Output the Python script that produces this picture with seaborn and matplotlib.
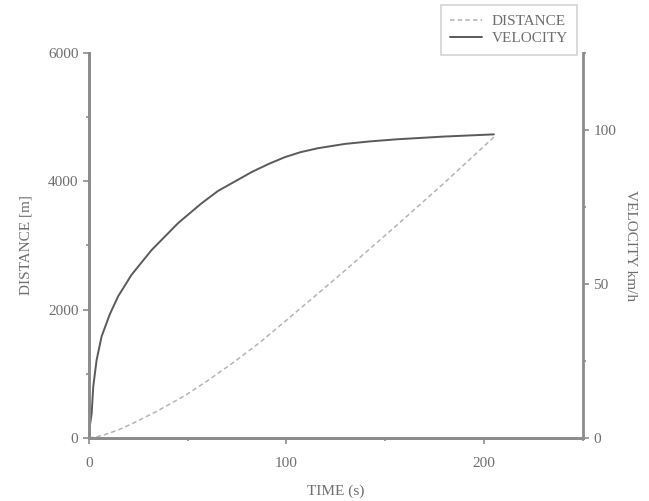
import numpy as np
import pandas as pd
import matplotlib
matplotlib.use("Agg")
import matplotlib.pyplot as plt
from matplotlib.ticker import MultipleLocator
import seaborn as sns

# values
dist_time = [0, 4, 8, 15, 23, 35, 48.6, 60, 74, 87, 99, 114, 130, 156, 180, 205]
dist_m = [0, 18, 50, 125, 238, 425, 660, 890, 1195, 1500, 1810, 2200,
          2620, 3320, 3980, 4690]

vel_time = [0, 0.5, 1.4, 2.2, 3.9, 6.4, 10.6, 14.8, 21.6, 31.7, 45.2, 57,
            65.3, 82.5, 91, 99.2, 107, 115.9, 129.6, 142, 155.9, 180, 205]
vel_kmh = [0, 4, 8, 16.7, 25.3, 32.9, 40.2, 46, 53, 61, 69.8, 76.2,
           80.2, 86.4, 89.0, 91.2, 92.8, 94.1, 95.5, 96.3, 97.0, 97.9, 98.6]

df_dist = pd.DataFrame({"time": dist_time, "distance": dist_m})
df_vel = pd.DataFrame({"time": vel_time, "velocity": vel_kmh})

sns.set_theme(style="ticks")
plt.rcParams["font.family"] = ["Liberation Serif", "DejaVu Serif"]

text_col = "#6e6e6e"
spine_col = "#8c8c8c"
fs = 11

fig = plt.figure(figsize=(6.49, 5.01), dpi=100)
ax = fig.add_axes([0.137, 0.126, 0.761, 0.768])
ax2 = ax.twinx()

sns.lineplot(data=df_dist, x="time", y="distance", ax=ax, color="#b4b4b4",
             linewidth=1.1, linestyle=(0, (3, 2)), label="DISTANCE", legend=False)
sns.lineplot(data=df_vel, x="time", y="velocity", ax=ax2, color="#5a5a5a",
             linewidth=1.4, label="VELOCITY", legend=False)

ax.set_xlim(0, 250)
ax.set_ylim(0, 6000)
ax2.set_ylim(0, 125)

ax.xaxis.set_major_locator(MultipleLocator(100))
ax.xaxis.set_minor_locator(MultipleLocator(50))
ax.yaxis.set_major_locator(MultipleLocator(2000))
ax.yaxis.set_minor_locator(MultipleLocator(1000))
ax2.yaxis.set_major_locator(MultipleLocator(50))
ax2.yaxis.set_minor_locator(MultipleLocator(25))

ax.set_xlabel("TIME (s)", fontsize=fs, color=text_col, labelpad=10)
ax.set_ylabel("DISTANCE [m]", fontsize=fs, color=text_col, labelpad=11)
ax2.set_ylabel("VELOCITY km/h", fontsize=fs, color=text_col, rotation=270,
               labelpad=15)

for a in (ax, ax2):
    a.tick_params(which="both", direction="out", colors=spine_col,
                  labelcolor=text_col, labelsize=fs)
    a.tick_params(which="major", length=4, width=1.2)
    a.tick_params(which="minor", length=2.5, width=1.2)
    a.spines["top"].set_visible(False)
    for s in ("left", "right", "bottom"):
        a.spines[s].set_color(spine_col)
        a.spines[s].set_linewidth(2)
    a.grid(False)
ax.spines["right"].set_visible(False)
ax.tick_params(axis="x", which="major", pad=10)

handles = ax.get_lines()[:1] + ax2.get_lines()[:1]
leg = fig.legend(handles, ["DISTANCE", "VELOCITY"], loc="upper right",
                 bbox_to_anchor=(0.889, 0.990), borderaxespad=0, fontsize=fs,
                 frameon=True, fancybox=False, handlelength=2.1, borderpad=0.6,
                 labelspacing=0.25, handletextpad=0.6)
leg.get_frame().set_edgecolor("#c8c8c8")
leg.get_frame().set_linewidth(1.2)
for t in leg.get_texts():
    t.set_color(text_col)

fig.savefig("out.png", dpi=100)
